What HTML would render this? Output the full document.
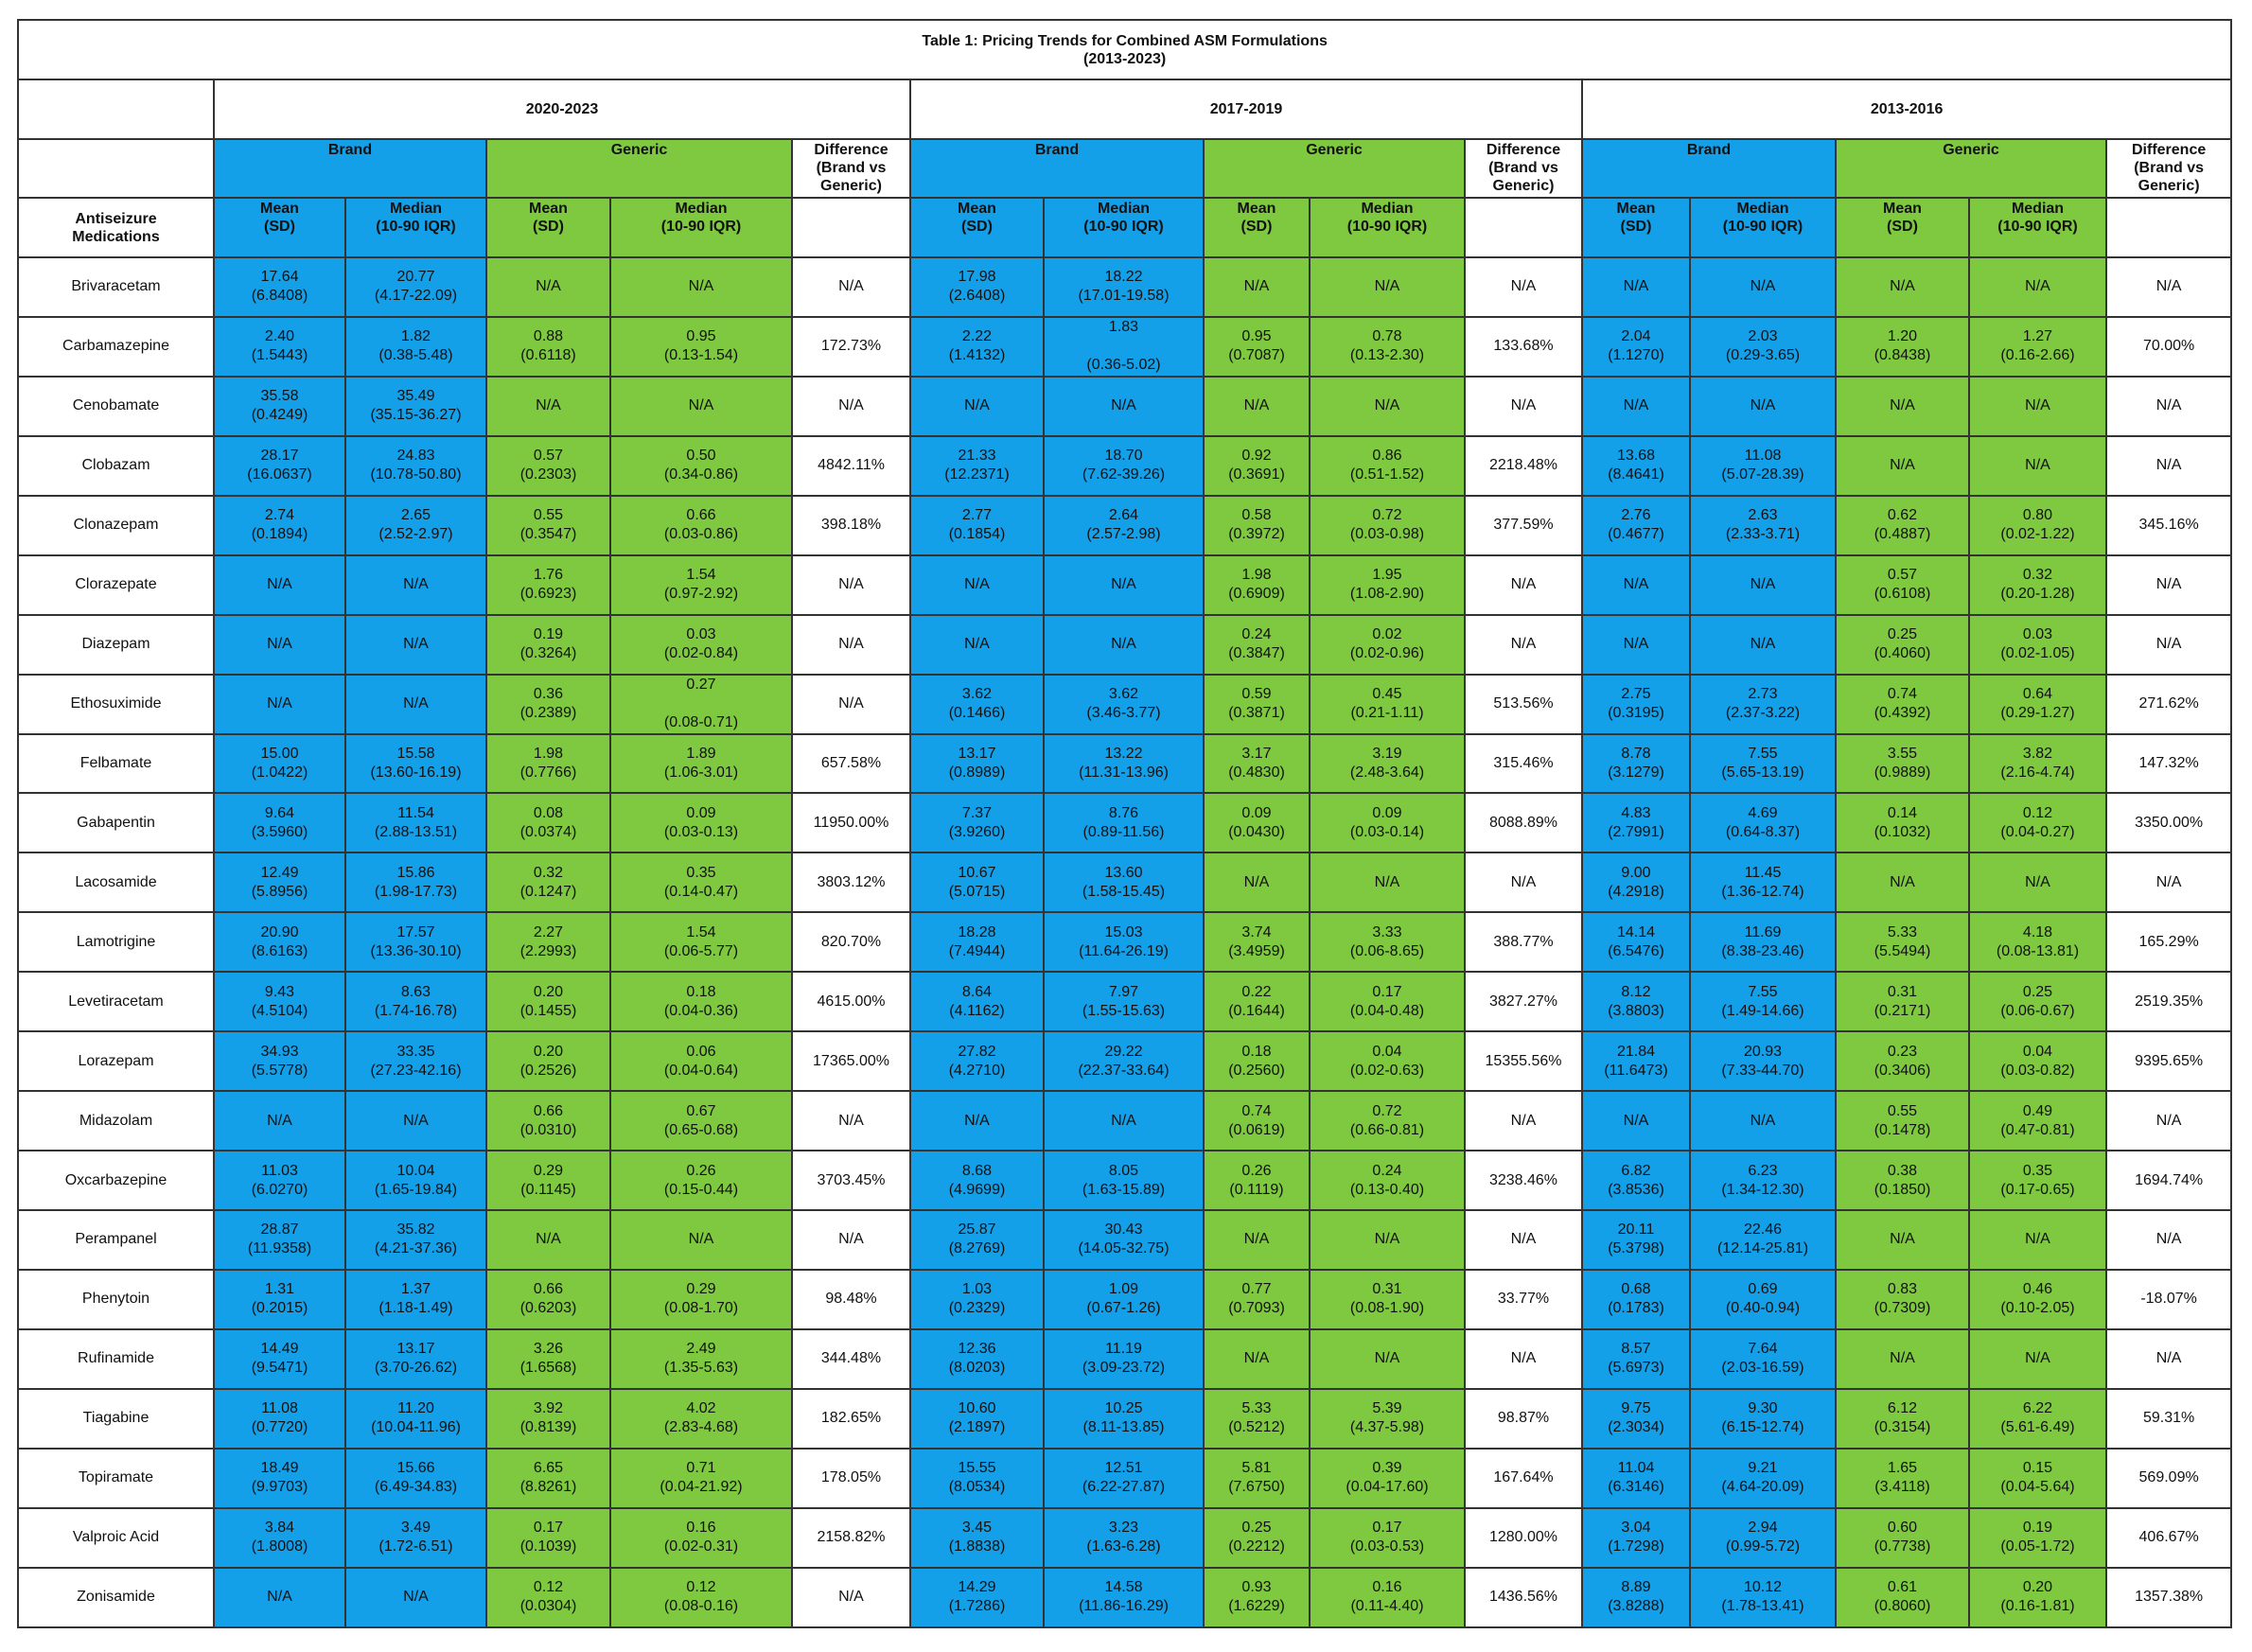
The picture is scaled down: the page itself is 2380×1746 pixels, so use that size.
<!DOCTYPE html>
<html><head><meta charset="utf-8"><style>
html,body{margin:0;padding:0;background:#fff;width:2380px;height:1746px;overflow:hidden}
table{position:absolute;left:18px;top:20px;width:2339px;border-collapse:collapse;table-layout:fixed;font-family:"Liberation Sans",Arial,sans-serif;font-size:16px;color:#111}
td{border:2px solid #333;text-align:center;vertical-align:middle;padding:0 2px;line-height:20px;overflow:hidden}
.h td{font-weight:bold;line-height:19px}
.t{vertical-align:top;padding-top:1px}
.B{background:#149fe9}.G{background:#7ec93f}
tr.d td:nth-child(2),tr.d td:nth-child(3),tr.d td:nth-child(7),tr.d td:nth-child(8),tr.d td:nth-child(12),tr.d td:nth-child(13){background:#149fe9}
tr.d td:nth-child(4),tr.d td:nth-child(5),tr.d td:nth-child(9),tr.d td:nth-child(10),tr.d td:nth-child(14),tr.d td:nth-child(15){background:#7ec93f}
tr.d{height:62.95px}
</style></head><body>
<table>
<colgroup><col style="width:207px"><col style="width:139px"><col style="width:149px"><col style="width:131px"><col style="width:192px"><col style="width:125px"><col style="width:141px"><col style="width:169px"><col style="width:112px"><col style="width:164px"><col style="width:124px"><col style="width:114px"><col style="width:154px"><col style="width:141px"><col style="width:145px"><col style="width:132px"></colgroup>
<tr class="h" style="height:63px"><td colspan="16">Table 1: Pricing Trends for Combined ASM Formulations<br>(2013-2023)</td></tr>
<tr class="h" style="height:63px"><td></td><td colspan="5">2020-2023</td><td colspan="5">2017-2019</td><td colspan="5">2013-2016</td></tr>
<tr class="h" style="height:62px"><td></td><td colspan="2" class="B t">Brand</td><td colspan="2" class="G t">Generic</td><td class="t">Difference<br>(Brand vs<br>Generic)</td><td colspan="2" class="B t">Brand</td><td colspan="2" class="G t">Generic</td><td class="t">Difference<br>(Brand vs<br>Generic)</td><td colspan="2" class="B t">Brand</td><td colspan="2" class="G t">Generic</td><td class="t">Difference<br>(Brand vs<br>Generic)</td></tr>
<tr class="h" style="height:63px"><td>Antiseizure<br>Medications</td><td class="B t">Mean<br>(SD)</td><td class="B t">Median<br>(10-90 IQR)</td><td class="G t">Mean<br>(SD)</td><td class="G t">Median<br>(10-90 IQR)</td><td></td><td class="B t">Mean<br>(SD)</td><td class="B t">Median<br>(10-90 IQR)</td><td class="G t">Mean<br>(SD)</td><td class="G t">Median<br>(10-90 IQR)</td><td></td><td class="B t">Mean<br>(SD)</td><td class="B t">Median<br>(10-90 IQR)</td><td class="G t">Mean<br>(SD)</td><td class="G t">Median<br>(10-90 IQR)</td><td></td></tr>
<tr class="d"><td>Brivaracetam</td><td>17.64<br>(6.8408)</td><td>20.77<br>(4.17-22.09)</td><td>N/A</td><td>N/A</td><td>N/A</td><td>17.98<br>(2.6408)</td><td>18.22<br>(17.01-19.58)</td><td>N/A</td><td>N/A</td><td>N/A</td><td>N/A</td><td>N/A</td><td>N/A</td><td>N/A</td><td>N/A</td></tr>
<tr class="d"><td>Carbamazepine</td><td>2.40<br>(1.5443)</td><td>1.82<br>(0.38-5.48)</td><td>0.88<br>(0.6118)</td><td>0.95<br>(0.13-1.54)</td><td>172.73%</td><td>2.22<br>(1.4132)</td><td>1.83<br><br>(0.36-5.02)</td><td>0.95<br>(0.7087)</td><td>0.78<br>(0.13-2.30)</td><td>133.68%</td><td>2.04<br>(1.1270)</td><td>2.03<br>(0.29-3.65)</td><td>1.20<br>(0.8438)</td><td>1.27<br>(0.16-2.66)</td><td>70.00%</td></tr>
<tr class="d"><td>Cenobamate</td><td>35.58<br>(0.4249)</td><td>35.49<br>(35.15-36.27)</td><td>N/A</td><td>N/A</td><td>N/A</td><td>N/A</td><td>N/A</td><td>N/A</td><td>N/A</td><td>N/A</td><td>N/A</td><td>N/A</td><td>N/A</td><td>N/A</td><td>N/A</td></tr>
<tr class="d"><td>Clobazam</td><td>28.17<br>(16.0637)</td><td>24.83<br>(10.78-50.80)</td><td>0.57<br>(0.2303)</td><td>0.50<br>(0.34-0.86)</td><td>4842.11%</td><td>21.33<br>(12.2371)</td><td>18.70<br>(7.62-39.26)</td><td>0.92<br>(0.3691)</td><td>0.86<br>(0.51-1.52)</td><td>2218.48%</td><td>13.68<br>(8.4641)</td><td>11.08<br>(5.07-28.39)</td><td>N/A</td><td>N/A</td><td>N/A</td></tr>
<tr class="d"><td>Clonazepam</td><td>2.74<br>(0.1894)</td><td>2.65<br>(2.52-2.97)</td><td>0.55<br>(0.3547)</td><td>0.66<br>(0.03-0.86)</td><td>398.18%</td><td>2.77<br>(0.1854)</td><td>2.64<br>(2.57-2.98)</td><td>0.58<br>(0.3972)</td><td>0.72<br>(0.03-0.98)</td><td>377.59%</td><td>2.76<br>(0.4677)</td><td>2.63<br>(2.33-3.71)</td><td>0.62<br>(0.4887)</td><td>0.80<br>(0.02-1.22)</td><td>345.16%</td></tr>
<tr class="d"><td>Clorazepate</td><td>N/A</td><td>N/A</td><td>1.76<br>(0.6923)</td><td>1.54<br>(0.97-2.92)</td><td>N/A</td><td>N/A</td><td>N/A</td><td>1.98<br>(0.6909)</td><td>1.95<br>(1.08-2.90)</td><td>N/A</td><td>N/A</td><td>N/A</td><td>0.57<br>(0.6108)</td><td>0.32<br>(0.20-1.28)</td><td>N/A</td></tr>
<tr class="d"><td>Diazepam</td><td>N/A</td><td>N/A</td><td>0.19<br>(0.3264)</td><td>0.03<br>(0.02-0.84)</td><td>N/A</td><td>N/A</td><td>N/A</td><td>0.24<br>(0.3847)</td><td>0.02<br>(0.02-0.96)</td><td>N/A</td><td>N/A</td><td>N/A</td><td>0.25<br>(0.4060)</td><td>0.03<br>(0.02-1.05)</td><td>N/A</td></tr>
<tr class="d"><td>Ethosuximide</td><td>N/A</td><td>N/A</td><td>0.36<br>(0.2389)</td><td>0.27<br><br>(0.08-0.71)</td><td>N/A</td><td>3.62<br>(0.1466)</td><td>3.62<br>(3.46-3.77)</td><td>0.59<br>(0.3871)</td><td>0.45<br>(0.21-1.11)</td><td>513.56%</td><td>2.75<br>(0.3195)</td><td>2.73<br>(2.37-3.22)</td><td>0.74<br>(0.4392)</td><td>0.64<br>(0.29-1.27)</td><td>271.62%</td></tr>
<tr class="d"><td>Felbamate</td><td>15.00<br>(1.0422)</td><td>15.58<br>(13.60-16.19)</td><td>1.98<br>(0.7766)</td><td>1.89<br>(1.06-3.01)</td><td>657.58%</td><td>13.17<br>(0.8989)</td><td>13.22<br>(11.31-13.96)</td><td>3.17<br>(0.4830)</td><td>3.19<br>(2.48-3.64)</td><td>315.46%</td><td>8.78<br>(3.1279)</td><td>7.55<br>(5.65-13.19)</td><td>3.55<br>(0.9889)</td><td>3.82<br>(2.16-4.74)</td><td>147.32%</td></tr>
<tr class="d"><td>Gabapentin</td><td>9.64<br>(3.5960)</td><td>11.54<br>(2.88-13.51)</td><td>0.08<br>(0.0374)</td><td>0.09<br>(0.03-0.13)</td><td>11950.00%</td><td>7.37<br>(3.9260)</td><td>8.76<br>(0.89-11.56)</td><td>0.09<br>(0.0430)</td><td>0.09<br>(0.03-0.14)</td><td>8088.89%</td><td>4.83<br>(2.7991)</td><td>4.69<br>(0.64-8.37)</td><td>0.14<br>(0.1032)</td><td>0.12<br>(0.04-0.27)</td><td>3350.00%</td></tr>
<tr class="d"><td>Lacosamide</td><td>12.49<br>(5.8956)</td><td>15.86<br>(1.98-17.73)</td><td>0.32<br>(0.1247)</td><td>0.35<br>(0.14-0.47)</td><td>3803.12%</td><td>10.67<br>(5.0715)</td><td>13.60<br>(1.58-15.45)</td><td>N/A</td><td>N/A</td><td>N/A</td><td>9.00<br>(4.2918)</td><td>11.45<br>(1.36-12.74)</td><td>N/A</td><td>N/A</td><td>N/A</td></tr>
<tr class="d"><td>Lamotrigine</td><td>20.90<br>(8.6163)</td><td>17.57<br>(13.36-30.10)</td><td>2.27<br>(2.2993)</td><td>1.54<br>(0.06-5.77)</td><td>820.70%</td><td>18.28<br>(7.4944)</td><td>15.03<br>(11.64-26.19)</td><td>3.74<br>(3.4959)</td><td>3.33<br>(0.06-8.65)</td><td>388.77%</td><td>14.14<br>(6.5476)</td><td>11.69<br>(8.38-23.46)</td><td>5.33<br>(5.5494)</td><td>4.18<br>(0.08-13.81)</td><td>165.29%</td></tr>
<tr class="d"><td>Levetiracetam</td><td>9.43<br>(4.5104)</td><td>8.63<br>(1.74-16.78)</td><td>0.20<br>(0.1455)</td><td>0.18<br>(0.04-0.36)</td><td>4615.00%</td><td>8.64<br>(4.1162)</td><td>7.97<br>(1.55-15.63)</td><td>0.22<br>(0.1644)</td><td>0.17<br>(0.04-0.48)</td><td>3827.27%</td><td>8.12<br>(3.8803)</td><td>7.55<br>(1.49-14.66)</td><td>0.31<br>(0.2171)</td><td>0.25<br>(0.06-0.67)</td><td>2519.35%</td></tr>
<tr class="d"><td>Lorazepam</td><td>34.93<br>(5.5778)</td><td>33.35<br>(27.23-42.16)</td><td>0.20<br>(0.2526)</td><td>0.06<br>(0.04-0.64)</td><td>17365.00%</td><td>27.82<br>(4.2710)</td><td>29.22<br>(22.37-33.64)</td><td>0.18<br>(0.2560)</td><td>0.04<br>(0.02-0.63)</td><td>15355.56%</td><td>21.84<br>(11.6473)</td><td>20.93<br>(7.33-44.70)</td><td>0.23<br>(0.3406)</td><td>0.04<br>(0.03-0.82)</td><td>9395.65%</td></tr>
<tr class="d"><td>Midazolam</td><td>N/A</td><td>N/A</td><td>0.66<br>(0.0310)</td><td>0.67<br>(0.65-0.68)</td><td>N/A</td><td>N/A</td><td>N/A</td><td>0.74<br>(0.0619)</td><td>0.72<br>(0.66-0.81)</td><td>N/A</td><td>N/A</td><td>N/A</td><td>0.55<br>(0.1478)</td><td>0.49<br>(0.47-0.81)</td><td>N/A</td></tr>
<tr class="d"><td>Oxcarbazepine</td><td>11.03<br>(6.0270)</td><td>10.04<br>(1.65-19.84)</td><td>0.29<br>(0.1145)</td><td>0.26<br>(0.15-0.44)</td><td>3703.45%</td><td>8.68<br>(4.9699)</td><td>8.05<br>(1.63-15.89)</td><td>0.26<br>(0.1119)</td><td>0.24<br>(0.13-0.40)</td><td>3238.46%</td><td>6.82<br>(3.8536)</td><td>6.23<br>(1.34-12.30)</td><td>0.38<br>(0.1850)</td><td>0.35<br>(0.17-0.65)</td><td>1694.74%</td></tr>
<tr class="d"><td>Perampanel</td><td>28.87<br>(11.9358)</td><td>35.82<br>(4.21-37.36)</td><td>N/A</td><td>N/A</td><td>N/A</td><td>25.87<br>(8.2769)</td><td>30.43<br>(14.05-32.75)</td><td>N/A</td><td>N/A</td><td>N/A</td><td>20.11<br>(5.3798)</td><td>22.46<br>(12.14-25.81)</td><td>N/A</td><td>N/A</td><td>N/A</td></tr>
<tr class="d"><td>Phenytoin</td><td>1.31<br>(0.2015)</td><td>1.37<br>(1.18-1.49)</td><td>0.66<br>(0.6203)</td><td>0.29<br>(0.08-1.70)</td><td>98.48%</td><td>1.03<br>(0.2329)</td><td>1.09<br>(0.67-1.26)</td><td>0.77<br>(0.7093)</td><td>0.31<br>(0.08-1.90)</td><td>33.77%</td><td>0.68<br>(0.1783)</td><td>0.69<br>(0.40-0.94)</td><td>0.83<br>(0.7309)</td><td>0.46<br>(0.10-2.05)</td><td>-18.07%</td></tr>
<tr class="d"><td>Rufinamide</td><td>14.49<br>(9.5471)</td><td>13.17<br>(3.70-26.62)</td><td>3.26<br>(1.6568)</td><td>2.49<br>(1.35-5.63)</td><td>344.48%</td><td>12.36<br>(8.0203)</td><td>11.19<br>(3.09-23.72)</td><td>N/A</td><td>N/A</td><td>N/A</td><td>8.57<br>(5.6973)</td><td>7.64<br>(2.03-16.59)</td><td>N/A</td><td>N/A</td><td>N/A</td></tr>
<tr class="d"><td>Tiagabine</td><td>11.08<br>(0.7720)</td><td>11.20<br>(10.04-11.96)</td><td>3.92<br>(0.8139)</td><td>4.02<br>(2.83-4.68)</td><td>182.65%</td><td>10.60<br>(2.1897)</td><td>10.25<br>(8.11-13.85)</td><td>5.33<br>(0.5212)</td><td>5.39<br>(4.37-5.98)</td><td>98.87%</td><td>9.75<br>(2.3034)</td><td>9.30<br>(6.15-12.74)</td><td>6.12<br>(0.3154)</td><td>6.22<br>(5.61-6.49)</td><td>59.31%</td></tr>
<tr class="d"><td>Topiramate</td><td>18.49<br>(9.9703)</td><td>15.66<br>(6.49-34.83)</td><td>6.65<br>(8.8261)</td><td>0.71<br>(0.04-21.92)</td><td>178.05%</td><td>15.55<br>(8.0534)</td><td>12.51<br>(6.22-27.87)</td><td>5.81<br>(7.6750)</td><td>0.39<br>(0.04-17.60)</td><td>167.64%</td><td>11.04<br>(6.3146)</td><td>9.21<br>(4.64-20.09)</td><td>1.65<br>(3.4118)</td><td>0.15<br>(0.04-5.64)</td><td>569.09%</td></tr>
<tr class="d"><td>Valproic Acid</td><td>3.84<br>(1.8008)</td><td>3.49<br>(1.72-6.51)</td><td>0.17<br>(0.1039)</td><td>0.16<br>(0.02-0.31)</td><td>2158.82%</td><td>3.45<br>(1.8838)</td><td>3.23<br>(1.63-6.28)</td><td>0.25<br>(0.2212)</td><td>0.17<br>(0.03-0.53)</td><td>1280.00%</td><td>3.04<br>(1.7298)</td><td>2.94<br>(0.99-5.72)</td><td>0.60<br>(0.7738)</td><td>0.19<br>(0.05-1.72)</td><td>406.67%</td></tr>
<tr class="d"><td>Zonisamide</td><td>N/A</td><td>N/A</td><td>0.12<br>(0.0304)</td><td>0.12<br>(0.08-0.16)</td><td>N/A</td><td>14.29<br>(1.7286)</td><td>14.58<br>(11.86-16.29)</td><td>0.93<br>(1.6229)</td><td>0.16<br>(0.11-4.40)</td><td>1436.56%</td><td>8.89<br>(3.8288)</td><td>10.12<br>(1.78-13.41)</td><td>0.61<br>(0.8060)</td><td>0.20<br>(0.16-1.81)</td><td>1357.38%</td></tr>
</table>
</body></html>
